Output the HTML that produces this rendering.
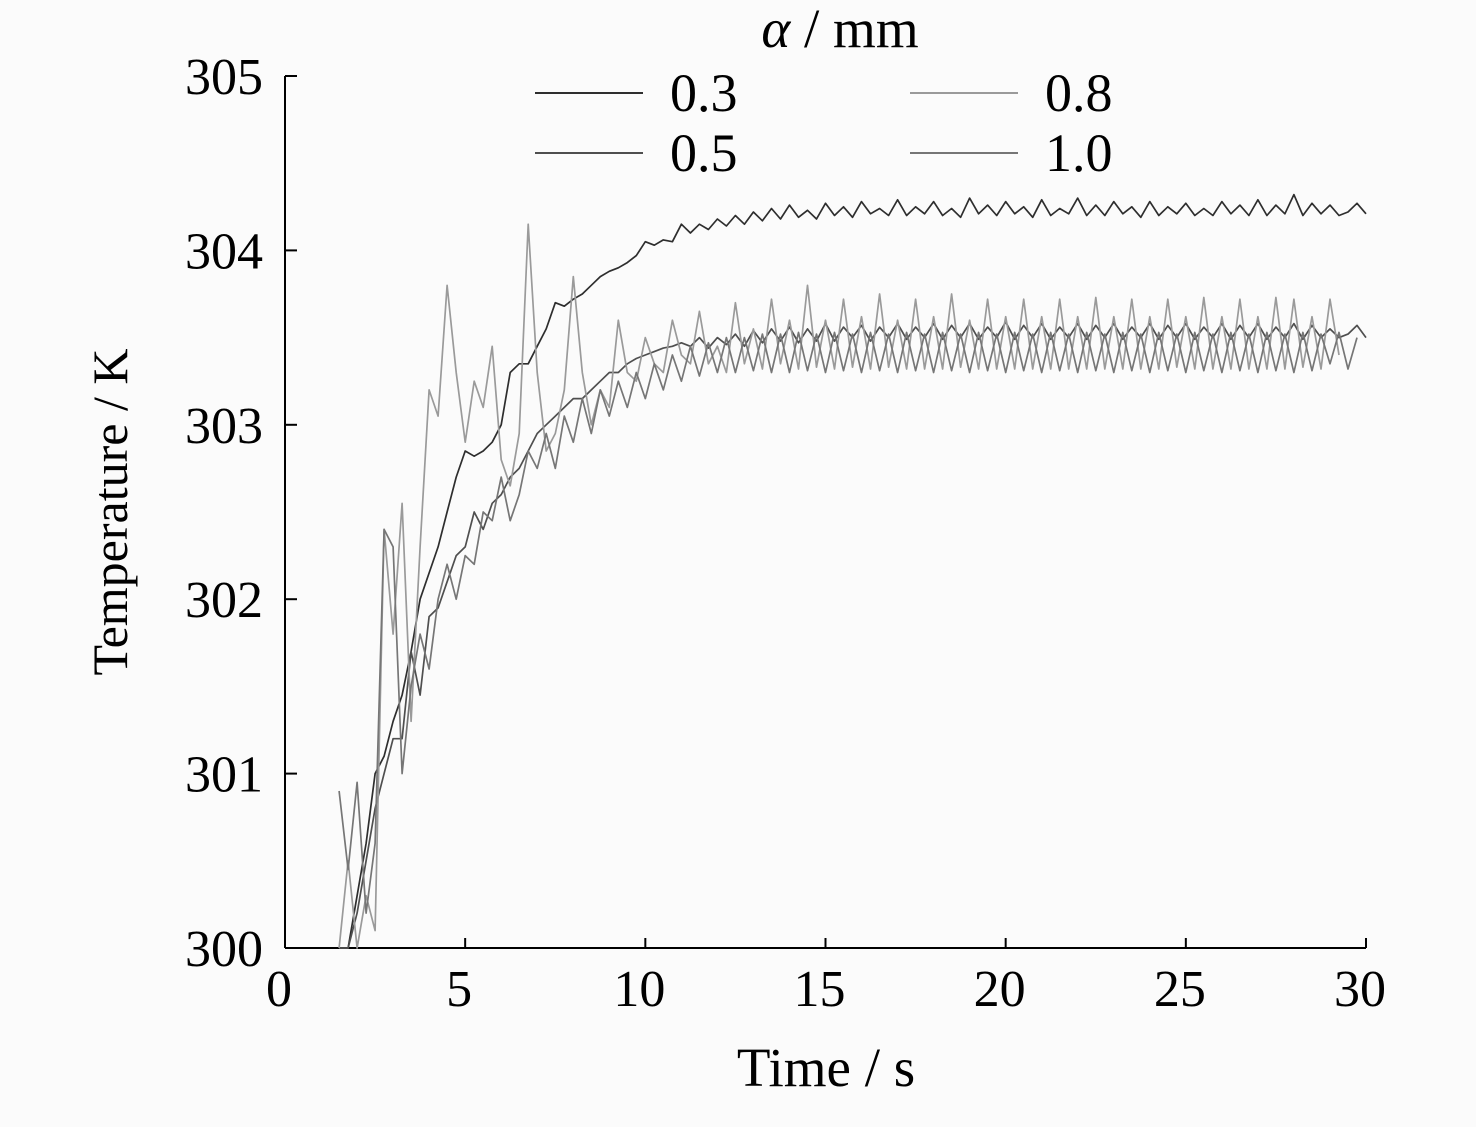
<!DOCTYPE html>
<html><head><meta charset="utf-8"><style>
body{margin:0;background:#fbfbfb;}
svg{display:block;font-family:"Liberation Serif",serif;}
</style></head><body>
<svg id="chart" width="1476" height="1127" viewBox="0 0 1476 1127" xmlns="http://www.w3.org/2000/svg">
<rect width="1476" height="1127" fill="#fbfbfb"/>
<g id="axes"></g>
<g id="series"></g>
<g id="legend">
<text x="840" y="47" font-size="55" text-anchor="middle"><tspan font-style="italic">α</tspan> / mm</text>
</g>
<text x="826" y="1086" font-size="55" text-anchor="middle">Time / s</text>
<text transform="translate(127,512) rotate(-90)" font-size="50" text-anchor="middle">Temperature / K</text>
</svg>
<script>
const xTicks=[0,5,10,15,20,25,30];
const yTicks=[300,301,302,303,304,305];
const seriesNames=["0.3","0.5","0.8","1.0"];
const seriesColors=["#2e2e2e","#4f4f4f","#9a9a9a","#767676"];
const tStart=1.5, tStep=0.25;
const s03=[300.0,300.0,300.3,300.6,301.0,301.1,301.3,301.45,301.7,302.0,302.15,302.3,302.5,302.7,302.85,302.82,302.85,302.9,303.0,303.3,303.35,303.35,303.45,303.55,303.7,303.68,303.72,303.75,303.8,303.85,303.88,303.9,303.93,303.97,304.05,304.03,304.06,304.05,304.15,
304.1,304.15,304.12,304.18,304.14,304.2,304.15,304.22,304.17,304.24,304.18,
304.26,304.19,304.23,304.18,304.27,304.2,304.25,304.19,304.28,304.21,304.24,304.2,304.29,304.2,304.25,304.21,304.28,304.2,304.24,304.19,304.3,304.21,304.26,304.2,304.28,304.21,304.25,304.19,304.29,304.2,304.24,304.21,304.3,304.2,304.26,304.2,304.28,304.21,304.25,304.19,304.28,304.2,304.25,304.21,304.27,304.2,304.24,304.2,304.28,304.21,304.26,304.2,304.29,304.2,304.26,304.21,304.32,304.2,304.27,304.21,304.26,304.2,304.22,304.27,304.21,304.25,304.22];
const s05=[300.0,300.0,300.2,300.5,300.8,301.0,301.2,301.2,301.7,301.45,301.9,301.95,302.1,302.25,302.3,302.5,302.4,302.55,302.6,302.7,302.75,302.85,302.95,303.0,303.05,303.1,303.15,303.15,303.2,303.25,303.3,303.3,303.35,303.38,303.4,303.42,303.44,303.45,303.47,
303.45,303.5,303.44,303.5,303.46,303.52,303.45,303.54,303.47,303.55,303.48,
303.56,303.47,303.55,303.48,303.58,303.48,303.56,303.5,303.57,303.48,303.56,303.5,303.58,303.49,303.56,303.5,303.58,303.49,303.57,303.5,303.58,303.49,303.56,303.5,303.59,303.49,303.57,303.5,303.58,303.49,303.56,303.5,303.58,303.49,303.57,303.5,303.58,303.49,303.56,303.5,303.58,303.49,303.57,303.5,303.58,303.49,303.56,303.5,303.58,303.49,303.57,303.5,303.58,303.49,303.56,303.5,303.58,303.49,303.57,303.5,303.55,303.5,303.52,303.57,303.5,303.55,303.52];
const s08=[300.0,300.5,300.0,300.3,300.1,302.4,301.8,302.55,301.3,302.3,303.2,303.05,303.8,303.3,302.9,303.25,303.1,303.45,302.8,302.65,302.95,304.15,303.3,302.85,302.95,303.2,303.85,303.3,303.0,303.2,303.1,303.6,303.3,303.25,303.5,303.35,303.3,303.6,303.4,
303.35,303.65,303.35,303.45,303.3,303.7,303.35,303.55,303.32,303.72,303.35,
303.6,303.32,303.8,303.33,303.6,303.32,303.72,303.33,303.62,303.32,303.75,303.33,303.6,303.32,303.72,303.32,303.62,303.32,303.75,303.33,303.6,303.32,303.72,303.32,303.62,303.32,303.72,303.32,303.62,303.32,303.72,303.32,303.62,303.32,303.73,303.32,303.62,303.32,303.72,303.32,303.62,303.32,303.72,303.33,303.62,303.32,303.73,303.32,303.62,303.32,303.72,303.32,303.62,303.32,303.73,303.32,303.72,303.33,303.62,303.32,303.72,303.4];
const s10=[300.9,300.45,300.95,300.2,300.6,302.4,302.3,301.0,301.5,301.8,301.6,302.0,302.2,302.0,302.25,302.2,302.5,302.45,302.7,302.45,302.6,302.85,302.75,302.95,302.75,303.05,302.9,303.15,302.95,303.2,303.05,303.25,303.1,303.3,303.15,303.35,303.2,303.4,303.25,
303.45,303.28,303.47,303.3,303.5,303.3,303.5,303.31,303.52,303.3,303.52,
303.3,303.53,303.31,303.52,303.3,303.53,303.31,303.52,303.3,303.53,303.31,303.52,303.3,303.53,303.31,303.52,303.3,303.53,303.31,303.52,303.3,303.53,303.31,303.52,303.3,303.53,303.31,303.52,303.3,303.53,303.31,303.52,303.3,303.53,303.31,303.52,303.3,303.53,303.31,303.52,303.3,303.53,303.31,303.52,303.3,303.53,303.31,303.52,303.3,303.53,303.31,303.52,303.3,303.53,303.31,303.52,303.3,303.53,303.31,303.52,303.35,303.53,303.32,303.5];
const allSeries=[s03,s05,s08,s10];

const X0=285,X1=1366,Y0=948,Y1=76;
const xs=v=>X0+(v-0)/30*(X1-X0);
const ys=v=>Y0-(v-300)/5*(Y0-Y1);
const NS="http://www.w3.org/2000/svg";
function mk(tag,attrs,parent){const e=document.createElementNS(NS,tag);for(const k in attrs)e.setAttribute(k,attrs[k]);parent.appendChild(e);return e;}
const axes=document.getElementById('axes');
let e=mk('line',{x1:X0,y1:Y1,x2:X0,y2:Y0,stroke:'#000','stroke-width':2},axes);


e=mk('line',{x1:X0,y1:Y0,x2:X1,y2:Y0,stroke:'#000','stroke-width':2},axes);


xTicks.forEach(v=>{
  let t=mk('line',{x1:xs(v),y1:Y0,x2:xs(v),y2:Y0-10,stroke:'#000','stroke-width':2},axes);
  
  
  let l=mk('text',{x:xs(v)-6,y:1006,'font-size':52,'text-anchor':'middle'},axes);l.textContent=v;
  
  
});
yTicks.forEach(v=>{
  let t=mk('line',{x1:X0,y1:ys(v),x2:X0+12,y2:ys(v),stroke:'#000','stroke-width':2},axes);
  
  
  let l=mk('text',{x:263,y:ys(v)+18,'font-size':52,'text-anchor':'end'},axes);l.textContent=v;
  
  
});
const sg=document.getElementById('series');
allSeries.forEach((arr,i)=>{
  const pts=arr.map((v,j)=>[tStart+j*tStep,v]).filter(p=>p[0]<=30).map(p=>xs(p[0]).toFixed(1)+','+Math.min(ys(p[1]),Y0).toFixed(1)).join(' ');
  let p=mk('polyline',{points:pts,fill:'none',stroke:seriesColors[i],'stroke-width':1.7,'stroke-linejoin':'round'},sg);
  
  
});
const lg=document.getElementById('legend');
const legPos=[[535,93],[535,153],[910,93],[910,153]];
seriesNames.forEach((n,i)=>{
  const [lx,ly]=legPos[i];
  let l=mk('line',{x1:lx,y1:ly,x2:lx+108,y2:ly,stroke:seriesColors[i],'stroke-width':2},lg);
  
  
  let t=mk('text',{x:lx+135,y:ly+18,'font-size':54},lg);t.textContent=n;
  
  
});
</script>
</body></html>
